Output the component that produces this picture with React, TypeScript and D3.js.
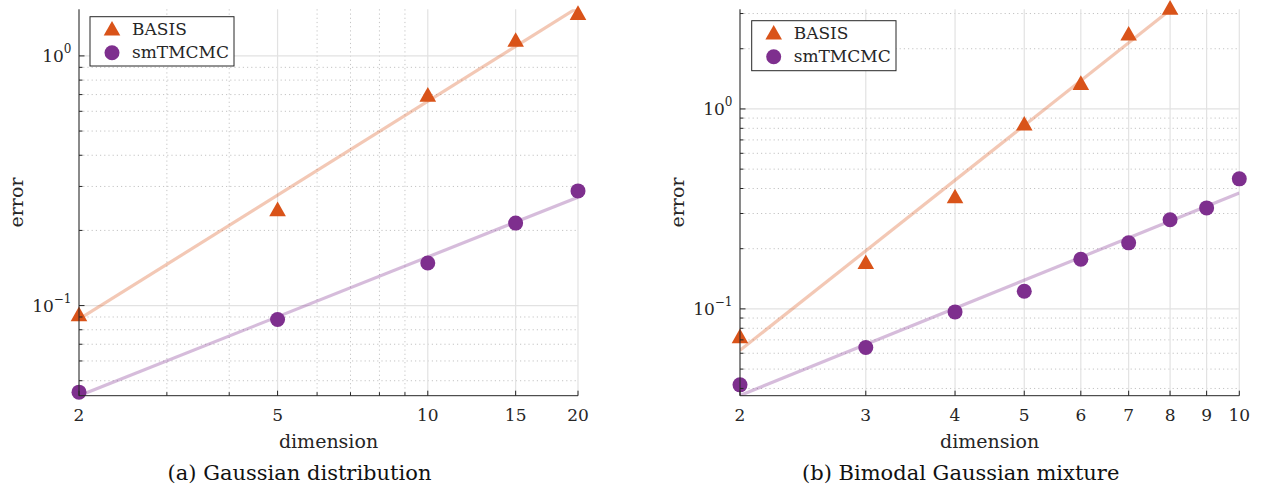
import React from "react";
import * as d3 from "d3";

// ---------- data ----------
const DIM_A = [2, 5, 10, 15, 20];
const BASIS_A = [0.0926, 0.244, 0.701, 1.163, 1.49];
const SMT_A = [0.045, 0.0879, 0.148, 0.214, 0.288];

const DIM_B_BASIS = [2, 3, 4, 5, 6, 7, 8];
const BASIS_B = [0.0733, 0.172, 0.367, 0.848, 1.354, 2.39, 3.22];
const DIM_B_SMT = [2, 3, 4, 5, 6, 7, 8, 9, 10];
const SMT_B = [0.0417, 0.0641, 0.0966, 0.1226, 0.177, 0.214, 0.279, 0.32, 0.447];

const XTICKS_A = [2, 5, 10, 15, 20];
const XMINOR_A = [3, 4, 6, 7, 8, 9];
const XTICKS_B = [2, 3, 4, 5, 6, 7, 8, 9, 10];
const XMINOR_B: number[] = [];

const YMAJOR = [0.1, 1];
const YMAJOR_LABELS = ["\u22121", "0"];
const YMINOR_A = [0.05, 0.06, 0.07, 0.08, 0.09, 0.2, 0.3, 0.4, 0.5, 0.6, 0.7, 0.8, 0.9];
const YMINOR_B = [0.04, 0.05, 0.06, 0.07, 0.08, 0.09, 0.2, 0.3, 0.4, 0.5, 0.6, 0.7, 0.8, 0.9, 2, 3];

const X_DOMAIN_A = [2, 20];
const X_DOMAIN_B = [2, 10];
const Y_DOMAIN_A = [0.04355, 1.537];
const Y_DOMAIN_B = [0.0368, 3.15];

const SERIES_NAMES = ["BASIS", "smTMCMC"];
const X_LABEL = "dimension";
const Y_LABEL = "error";
const CAPTION_A = "(a) Gaussian distribution";
const CAPTION_B = "(b) Bimodal Gaussian mixture";

// ---------- style ----------
const ORANGE = "#D95319";
const PURPLE = "#7E2F8E";
const AXIS = "#262626";
const FONT = "'DejaVu Serif', serif";

function fit(xs: number[], ys: number[]) {
  const lx = xs.map(Math.log10);
  const ly = ys.map(Math.log10);
  const mx = d3.mean(lx)!;
  const my = d3.mean(ly)!;
  let sxx = 0, sxy = 0;
  lx.forEach((v, i) => {
    sxx += (v - mx) * (v - mx);
    sxy += (v - mx) * (ly[i] - my);
  });
  const b = sxy / sxx;
  const a = my - b * mx;
  return (x: number) => Math.pow(10, a + b * Math.log10(x));
}

function Triangle({ cx, cy }: { cx: number; cy: number }) {
  const hw = 8.3, hh = 7.3;
  return (
    <path
      d={`M${cx},${cy - hh}L${cx + hw},${cy + hh}L${cx - hw},${cy + hh}Z`}
      fill={ORANGE}
    />
  );
}

function Dot({ cx, cy }: { cx: number; cy: number }) {
  return <circle cx={cx} cy={cy} r={7.5} fill={PURPLE} />;
}

type PanelProps = {
  id: string;
  x0: number; x1: number; y0: number; y1: number;
  xDomain: number[]; yDomain: number[];
  xTicks: number[]; xMinor: number[]; yMinor: number[];
  basisX: number[]; basisY: number[]; smtX: number[]; smtY: number[];
  legend: { x: number; y: number; w: number; h: number };
  caption: string; captionX: number;
};

function Panel(p: PanelProps) {
  const x = d3.scaleLog().domain(p.xDomain).range([p.x0, p.x1]);
  const y = d3.scaleLog().domain(p.yDomain).range([p.y1, p.y0]);
  const line = d3
    .line<number[]>()
    .x((d) => x(d[0]))
    .y((d) => y(d[1]));
  const fb = fit(p.basisX, p.basisY);
  const fs = fit(p.smtX, p.smtY);
  const bExt = d3.extent(p.basisX) as [number, number];
  const sExt = d3.extent(p.smtX) as [number, number];
  const lineB = line(bExt.map((v) => [v, fb(v)]));
  const lineS = line(sExt.map((v) => [v, fs(v)]));
  const midX = (p.x0 + p.x1) / 2;
  const midY = (p.y0 + p.y1) / 2;
  const L = p.legend;
  return (
    <g>
      <defs>
        <clipPath id={`clip-${p.id}`}>
          <rect x={p.x0} y={p.y0} width={p.x1 - p.x0} height={p.y1 - p.y0} />
        </clipPath>
      </defs>
      {/* minor grid */}
      {p.xMinor.map((t) => (
        <line key={"xm" + t} x1={x(t)} x2={x(t)} y1={p.y0} y2={p.y1}
          stroke="#c4c4c4" strokeWidth={1} strokeDasharray="1.2,3" />
      ))}
      {p.yMinor.map((t) => (
        <line key={"ym" + t} x1={p.x0} x2={p.x1} y1={y(t)} y2={y(t)}
          stroke="#c4c4c4" strokeWidth={1} strokeDasharray="1.2,3" />
      ))}
      {/* major grid */}
      {p.xTicks.map((t) => (
        <line key={"xg" + t} x1={x(t)} x2={x(t)} y1={p.y0} y2={p.y1}
          stroke="#e2e2e2" strokeWidth={1.2} />
      ))}
      {YMAJOR.map((t) => (
        <line key={"yg" + t} x1={p.x0} x2={p.x1} y1={y(t)} y2={y(t)}
          stroke="#e2e2e2" strokeWidth={1.2} />
      ))}
      {/* fit lines */}
      <g clipPath={`url(#clip-${p.id})`}>
        <path d={lineB || ""} stroke={ORANGE} strokeOpacity={0.32} strokeWidth={3.2} fill="none" />
        <path d={lineS || ""} stroke={PURPLE} strokeOpacity={0.32} strokeWidth={3.2} fill="none" />
      </g>
      {/* markers */}
      {p.basisX.map((d, i) => (
        <Triangle key={"b" + i} cx={x(d)} cy={y(p.basisY[i])} />
      ))}
      {p.smtX.map((d, i) => (
        <Dot key={"s" + i} cx={x(d)} cy={y(p.smtY[i])} />
      ))}
      {/* axes */}
      <line x1={p.x0} x2={p.x0} y1={p.y0} y2={p.y1} stroke={AXIS} strokeWidth={1} />
      <line x1={p.x0} x2={p.x1} y1={p.y1} y2={p.y1} stroke={AXIS} strokeWidth={1} />
      {p.xTicks.map((t) => (
        <g key={"xt" + t}>
          <line x1={x(t)} x2={x(t)} y1={p.y1} y2={p.y1 - 5} stroke={AXIS} />
          <text x={x(t)} y={p.y1 + 25} textAnchor="middle" fontFamily={FONT}
            fontSize={17} fill={AXIS}>{t}</text>
        </g>
      ))}
      {p.xMinor.map((t) => (
        <line key={"xmt" + t} x1={x(t)} x2={x(t)} y1={p.y1} y2={p.y1 - 3.5} stroke={AXIS} />
      ))}
      {YMAJOR.map((t, i) => (
        <g key={"yt" + t}>
          <line x1={p.x0} x2={p.x0 + 5.5} y1={y(t)} y2={y(t)} stroke={AXIS} />
          <text x={p.x0 - 7.5} y={y(t) + 6} textAnchor="end" fontFamily={FONT}
            fontSize={17} fill={AXIS}>
            <tspan>10</tspan>
            <tspan dy={-9} fontSize={12}>{YMAJOR_LABELS[i]}</tspan>
          </text>
        </g>
      ))}
      {p.yMinor.map((t) => (
        <line key={"ymt" + t} x1={p.x0} x2={p.x0 + 3.5} y1={y(t)} y2={y(t)} stroke={AXIS} />
      ))}
      {/* axis labels */}
      <text x={midX} y={448} textAnchor="middle" fontFamily={FONT} fontSize={19} fill={AXIS}>
        {X_LABEL}
      </text>
      <text transform={`translate(${p.x0 - 56},${midY}) rotate(-90)`} textAnchor="middle"
        fontFamily={FONT} fontSize={19} fill={AXIS}>
        {Y_LABEL}
      </text>
      {/* caption */}
      <text x={p.captionX} y={480} textAnchor="middle" fontFamily={FONT} fontSize={21} fill="#111">
        {p.caption}
      </text>
      {/* legend */}
      <rect x={L.x} y={L.y} width={L.w} height={L.h} fill="white" stroke={AXIS} strokeWidth={1} />
      <Triangle cx={L.x + 22} cy={L.y + 11.5} />
      <text x={L.x + 42} y={L.y + 18} fontFamily={FONT} fontSize={17} fill={AXIS}>
        {SERIES_NAMES[0]}
      </text>
      <Dot cx={L.x + 22} cy={L.y + 36} />
      <text x={L.x + 42} y={L.y + 41.5} fontFamily={FONT} fontSize={17} fill={AXIS}>
        {SERIES_NAMES[1]}
      </text>
    </g>
  );
}

export default function App() {
  return (
    <svg width={1265} height={490} style={{ position: "absolute", left: 0, top: 0, background: "white" }}>
      <rect width={1265} height={490} fill="white" />
      <Panel
        id="a"
        x0={79} x1={578} y0={9.3} y1={395.7}
        xDomain={X_DOMAIN_A} yDomain={Y_DOMAIN_A}
        xTicks={XTICKS_A} xMinor={XMINOR_A} yMinor={YMINOR_A}
        basisX={DIM_A} basisY={BASIS_A} smtX={DIM_A} smtY={SMT_A}
        legend={{ x: 90, y: 16.7, w: 144, h: 49.3 }}
        caption={CAPTION_A} captionX={299.5}
      />
      <Panel
        id="b"
        x0={740} x1={1239.3} y0={9.3} y1={395.7}
        xDomain={X_DOMAIN_B} yDomain={Y_DOMAIN_B}
        xTicks={XTICKS_B} xMinor={XMINOR_B} yMinor={YMINOR_B}
        basisX={DIM_B_BASIS} basisY={BASIS_B} smtX={DIM_B_SMT} smtY={SMT_B}
        legend={{ x: 751.7, y: 20.7, w: 144.3, h: 50 }}
        caption={CAPTION_B} captionX={960.7}
      />
    </svg>
  );
}
